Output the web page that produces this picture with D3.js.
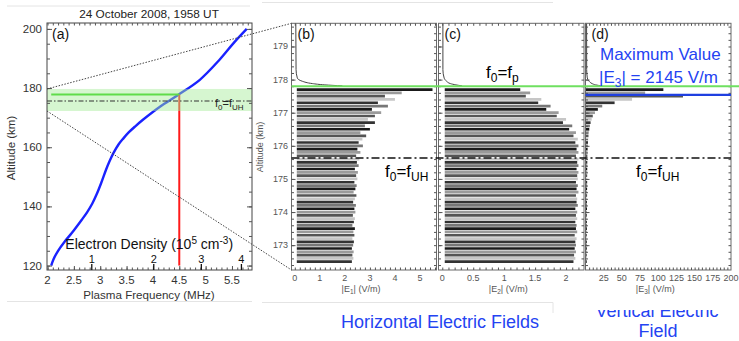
<!DOCTYPE html>
<html>
<head>
<meta charset="utf-8">
<script src="https://cdn.jsdelivr.net/npm/d3@7"></script>
<style>
  body { margin: 0; background: #fff; }
  svg { display: block; font-family: "Liberation Sans", Arial, sans-serif; }
</style>
</head>
<body>
<svg id="chart" width="739" height="341"></svg>
<script>
// ---- panel (a): density profile ----
const profileAlt  = [120, 122, 125, 128, 131, 135.5, 138, 141, 144, 148, 152.4, 155, 158, 161, 163, 165, 167, 169.3, 173.8, 177.6, 182.8, 189.5, 195.2, 200];
const profileFreq = [2.07, 2.11, 2.2, 2.32, 2.46, 2.65, 2.75, 2.85, 2.93, 3.02, 3.11, 3.17, 3.25, 3.35, 3.44, 3.54, 3.66, 3.81, 4.14, 4.47, 4.89, 5.26, 5.53, 5.78];
const freqTicks = [2, 2.5, 3, 3.5, 4, 4.5, 5, 5.5];
const densityTicks = [1, 2, 3, 4];          // 10^5 cm^-3
const altTicksA = [120, 140, 160, 180, 200];
const f0 = 4.5;                              // MHz
const fpAlt = 177.8;                         // f0 = fp
const fuhAlt = 175.63;                       // f0 = fUH
const zoomBand = [172.25, 179.7];

// ---- panels (b)-(d): field amplitudes vs altitude ----
const barAlt = [177.7, 177.6, 177.5, 177.4, 177.3, 177.2, 177.1, 177.0, 176.9, 176.8,
                176.7, 176.6, 176.5, 176.4, 176.3, 176.2, 176.1, 176.0, 175.9, 175.8,
                175.7, 175.6, 175.5, 175.4, 175.3, 175.2, 175.1, 175.0, 174.9, 174.8,
                174.7, 174.6, 174.5, 174.4, 174.3, 174.2, 174.1, 174.0, 173.9, 173.8,
                173.7, 173.6, 173.5, 173.4, 173.3, 173.2, 173.1, 173.0, 172.9, 172.8,
                172.7, 172.6, 172.5];
const e1 = [5.5, 4.27, 3.6, 4.0, 3.32, 3.72, 3.08, 3.45, 3.2, 2.92,
            3.2, 2.8, 3.0, 2.62, 2.85, 2.7, 2.55, 2.72, 2.5, 2.62,
            2.45, 2.58, 2.48, 2.55, 2.4, 2.52, 2.45, 2.5, 2.38, 2.47,
            2.42, 2.35, 2.46, 2.4, 2.33, 2.44, 2.38, 2.42, 2.32, 2.4,
            2.36, 2.3, 2.4, 2.34, 2.38, 2.3, 2.36, 2.33, 2.28, 2.35,
            2.3, 2.34, 2.28];
const e2 = [1.26, 1.42, 1.35, 1.6, 1.55, 1.75, 1.68, 1.88, 1.85, 2.0,
            1.95, 2.1, 2.05, 2.16, 2.12, 2.19, 2.15, 2.2, 2.17, 2.2,
            2.16, 2.2, 2.18, 2.2, 2.17, 2.2, 2.18, 2.19, 2.16, 2.19,
            2.17, 2.2, 2.16, 2.18, 2.17, 2.19, 2.15, 2.18, 2.16, 2.18,
            2.15, 2.17, 2.16, 2.18, 2.14, 2.17, 2.15, 2.16, 2.14, 2.16,
            2.13, 2.15, 2.12];
const e3 = [107, 82, 134, 64, 40, 23, 17, 13, 10, 8.5,
            7, 6, 5.2, 4.6, 4.1, 3.7, 3.4, 3.1, 2.9, 2.7,
            2.6, 2.5, 2.5, 2.4, 2.4, 2.4, 2.3, 2.3, 2.3, 2.2,
            2.2, 2.2, 2.2, 2.1, 2.1, 2.1, 2.1, 2.0, 2.0, 2.0,
            2.0, 2.0, 1.9, 1.9, 1.9, 1.9, 1.9, 1.8, 1.8, 1.8,
            1.8, 1.8, 1.8];
// thin trace above the plasma resonance
const topAlt = [179.7, 178.3, 178.05, 177.95, 177.88, 177.84, 177.81];
const e1Top  = [0.04, 0.05, 0.1, 0.3, 0.7, 1.2, 1.9];
const e2Top  = [0.01, 0.01, 0.03, 0.07, 0.13, 0.22, 0.32];
const e3Top  = [1.5, 1.6, 2.5, 5, 9, 14, 22];
const e3Max = 2145, e3MaxAlt = 177.54;
const altTicksB = [173, 174, 175, 176, 177, 178, 179];
const e1Ticks = [0, 1, 2, 3, 4, 5];
const e2Ticks = [0, 0.5, 1, 1.5, 2];
const e3Ticks = [25, 50, 75, 100, 125, 150, 175, 200];

const BLUE_TXT = '#2443f2';
const shades = ['#1a1a1a', '#9a9a9a', '#555', '#c6c6c6', '#333', '#777'];

const svg = d3.select('#chart');

// faint image borders
const faint = [[7, 6, 250, 6], [7, 301.5, 252, 301.5], [262, 2.5, 553, 2.5], [262, 302.5, 553, 302.5], [553, 302.5, 553, 313]];
svg.selectAll('.faint').data(faint).enter().append('line')
  .attr('x1', d => d[0]).attr('y1', d => d[1]).attr('x2', d => d[2]).attr('y2', d => d[3])
  .attr('stroke', '#e4e4e4');

// ===== panel (a) =====
const xa = d3.scaleLinear().domain([1.99, 5.88]).range([47, 252]);
const ya = d3.scaleLinear().domain([118.5, 202]).range([270, 23]);
const densToFreq = n => 2.8397 * Math.sqrt(n);   // f(MHz) for n in 1e5 cm^-3

const ga = svg.append('g');

function minorAxis(g, axisFn, scale, vals, size, transform) {
  g.append('g').attr('transform', transform)
    .call(axisFn(scale).tickValues(vals).tickSize(size).tickFormat(''))
    .call(s => s.select('.domain').remove())
    .selectAll('line').attr('stroke', '#555');
}

const profile = d3.zip(profileAlt, profileFreq);
ga.append('path').datum(profile)
  .attr('fill', 'none').attr('stroke', '#1a22ff').attr('stroke-width', 2.4)
  .attr('d', d3.line().x(d => xa(d[1])).y(d => ya(d[0])).curve(d3.curveCatmullRom.alpha(0.5)));

ga.append('line')
  .attr('x1', xa(f0)).attr('x2', xa(f0)).attr('y1', ya(120)).attr('y2', ya(fpAlt))
  .attr('stroke', '#ff1a1a').attr('stroke-width', 2);

// green band of the zoom region
ga.append('rect')
  .attr('x', xa.range()[0]).attr('width', xa.range()[1] - xa.range()[0])
  .attr('y', ya(zoomBand[1])).attr('height', ya(zoomBand[0]) - ya(zoomBand[1]))
  .attr('fill', 'rgb(165,235,150)').attr('opacity', 0.45);

ga.append('line')
  .attr('x1', xa(profileFreq[0])).attr('x2', xa(f0)).attr('y1', ya(fpAlt)).attr('y2', ya(fpAlt))
  .attr('stroke', '#5fdc4a').attr('stroke-width', 2);

ga.append('line')
  .attr('x1', xa.range()[0]).attr('x2', xa.range()[1]).attr('y1', ya(fuhAlt)).attr('y2', ya(fuhAlt))
  .attr('stroke', '#333').attr('stroke-width', 1).attr('stroke-dasharray', '5,2,1.5,2');

// frame + ticks
ga.append('rect').attr('x', 47).attr('y', 23).attr('width', 205).attr('height', 247)
  .attr('fill', 'none').attr('stroke', '#444');
minorAxis(ga, d3.axisLeft, ya, d3.range(120, 201, 5), -3, 'translate(47,0)');
minorAxis(ga, d3.axisRight, ya, d3.range(120, 201, 5), -3, 'translate(252,0)');
minorAxis(ga, d3.axisBottom, xa, d3.range(2, 5.85, 0.1), -2.5, 'translate(0,270)');
minorAxis(ga, d3.axisTop, xa, d3.range(2, 5.85, 0.1), -2.5, 'translate(0,23)');
minorAxis(ga, d3.axisBottom, xa, freqTicks, -4, 'translate(0,270)');
minorAxis(ga, d3.axisLeft, ya, altTicksA, -5, 'translate(47,0)');
minorAxis(ga, d3.axisRight, ya, altTicksA, -5, 'translate(252,0)');

ga.selectAll('.dtick').data(densityTicks).enter().append('line')
  .attr('x1', d => xa(densToFreq(d))).attr('x2', d => xa(densToFreq(d)))
  .attr('y1', 270).attr('y2', 264).attr('stroke', '#111').attr('stroke-width', 1.3);
ga.selectAll('.dlab').data(densityTicks).enter().append('text')
  .attr('x', d => xa(densToFreq(d))).attr('y', 262.5).attr('text-anchor', 'middle')
  .attr('font-size', 11).attr('fill', '#111').text(d => d);

const dens = ga.append('text').attr('x', xa(3.93)).attr('y', 249).attr('text-anchor', 'middle')
  .attr('font-size', 14).attr('fill', '#111');
dens.append('tspan').text('Electron Density (10');
dens.append('tspan').attr('dy', -5).attr('font-size', 10).text('5');
dens.append('tspan').attr('dy', 5).text(' cm');
dens.append('tspan').attr('dy', -5).attr('font-size', 10).text('-3');
dens.append('tspan').attr('dy', 5).text(')');

ga.selectAll('.flab').data(freqTicks).enter().append('text')
  .attr('x', d => xa(d)).attr('y', 284).attr('text-anchor', 'middle')
  .attr('font-size', 11.5).attr('fill', '#333').text(d => d);
ga.selectAll('.alab').data(altTicksA).enter().append('text')
  .attr('x', 42).attr('y', d => ya(d) + 4).attr('text-anchor', 'end')
  .attr('font-size', 11.5).attr('fill', '#333').text(d => d);

ga.append('text').attr('x', 149).attr('y', 299).attr('text-anchor', 'middle')
  .attr('font-size', 11.6).attr('fill', '#333').text('Plasma Frequency (MHz)');
ga.append('text').attr('transform', 'translate(15,148) rotate(-90)').attr('text-anchor', 'middle')
  .attr('font-size', 11.5).attr('fill', '#333').text('Altitude (km)');
ga.append('text').attr('x', 149).attr('y', 18).attr('text-anchor', 'middle')
  .attr('font-size', 11.8).attr('fill', '#222').text('24 October 2008, 1958 UT');
ga.append('text').attr('x', 52).attr('y', 39).attr('font-size', 14).attr('fill', '#111').text('(a)');

function fLabel(g, x, y, size, subs, color) {
  const t = g.append('text').attr('x', x).attr('y', y).attr('font-size', size).attr('fill', color);
  const sub = Math.round(size * 0.7), dy = size * 0.25;
  t.append('tspan').text('f');
  t.append('tspan').attr('dy', dy).attr('font-size', sub).text('0');
  t.append('tspan').attr('dy', -dy).text('=f');
  t.append('tspan').attr('dy', dy).attr('font-size', sub).text(subs);
  return t;
}
fLabel(ga, 215, 107, 11, 'UH', '#222');

// ===== panels (b), (c), (d) =====
const yb = d3.scaleLinear().domain([172.25, 179.7]).range([270, 23.3]);
const panels = [
  { key: 'b', x0: 291.5, x1: 436.5, dom: [-0.132, 5.66], vals: e1, top: e1Top, ticks: e1Ticks, minor: d3.range(0, 5.61, 0.2), start: 0.08, sub: '1' },
  { key: 'c', x0: 438.5, x1: 584, dom: [-0.061, 2.29], vals: e2, top: e2Top, ticks: e2Ticks, minor: d3.range(0, 2.26, 0.1), start: 0.04, sub: '2' },
  { key: 'd', x0: 585.5, x1: 731, dom: [0, 200], vals: e3, top: e3Top, ticks: e3Ticks, minor: d3.range(5, 200, 5), start: 0, sub: '3' }
];

panels.forEach(p => {
  const x = d3.scaleLinear().domain(p.dom).range([p.x0, p.x1]);
  p.x = x;
  const g = svg.append('g');

  g.selectAll('.bar').data(d3.zip(barAlt, p.vals)).enter().append('line')
    .attr('x1', x(p.start)).attr('x2', d => x(d[1]))
    .attr('y1', d => yb(d[0])).attr('y2', d => yb(d[0]))
    .attr('stroke', (d, i) => shades[i % shades.length]).attr('stroke-width', 2.7);

  g.append('path').datum(d3.zip(topAlt, p.top))
    .attr('fill', 'none').attr('stroke', '#444').attr('stroke-width', 1)
    .attr('d', d3.line().x(d => x(d[1])).y(d => yb(d[0])).curve(d3.curveMonotoneY));

  g.append('rect').attr('x', p.x0).attr('y', 23.3).attr('width', p.x1 - p.x0).attr('height', 270 - 23.3)
    .attr('fill', 'none').attr('stroke', '#6a6a6a');
  minorAxis(g, d3.axisBottom, x, p.minor, -2.5, 'translate(0,270)');
  minorAxis(g, d3.axisTop, x, p.minor, -2.5, 'translate(0,23.3)');
  minorAxis(g, d3.axisLeft, yb, d3.range(172.4, 179.7, 0.2), -2.5, `translate(${p.x0},0)`);
  minorAxis(g, d3.axisRight, yb, d3.range(172.4, 179.7, 0.2), -2.5, `translate(${p.x1},0)`);
  minorAxis(g, d3.axisLeft, yb, altTicksB, -4, `translate(${p.x0},0)`);

  g.selectAll('.xl').data(p.ticks).enter().append('text')
    .attr('x', d => x(d)).attr('y', 281).attr('text-anchor', 'middle')
    .attr('font-size', 9).attr('fill', '#555').text(d => d);

  const lab = g.append('text').attr('x', (p.x0 + p.x1) / 2 - 3).attr('y', 292)
    .attr('text-anchor', 'middle').attr('font-size', 9).attr('fill', '#555');
  lab.append('tspan').text('|E');
  lab.append('tspan').attr('dy', 2).attr('font-size', 6.5).text(p.sub);
  lab.append('tspan').attr('dy', -2).text('| (V/m)');

  g.append('text').attr('x', p.x0 + 6).attr('y', 39).attr('font-size', 14).attr('fill', '#111')
    .text(`(${p.key})`);
});

// (b) altitude axis labels
const pb = panels[0];
svg.selectAll('.yl').data(altTicksB).enter().append('text')
  .attr('x', 288).attr('y', d => yb(d) + 3).attr('text-anchor', 'end')
  .attr('font-size', 9).attr('fill', '#555').text(d => d);
svg.append('text').attr('transform', 'translate(263,147) rotate(-90)').attr('text-anchor', 'middle')
  .attr('font-size', 9).attr('fill', '#555').text('Altitude (km)');

// resonance lines across (b)-(d)
const pd = panels[2];
svg.append('line')
  .attr('x1', pb.x0).attr('x2', 739).attr('y1', yb(fpAlt)).attr('y2', yb(fpAlt))
  .attr('stroke', '#6fe060').attr('stroke-width', 2);
svg.append('line')
  .attr('x1', pd.x0).attr('x2', pd.x(Math.min(e3Max, pd.x.domain()[1]))).attr('y1', yb(e3MaxAlt)).attr('y2', yb(e3MaxAlt))
  .attr('stroke', '#1f3fe0').attr('stroke-width', 2.2);
svg.append('line')
  .attr('x1', pb.x0).attr('x2', pd.x1).attr('y1', yb(fuhAlt)).attr('y2', yb(fuhAlt))
  .attr('stroke', '#111').attr('stroke-width', 1.6).attr('stroke-dasharray', '8,3,2,3');

// connectors from panel (a) band to panel (b)
const conn = [[zoomBand[1], 23.3], [zoomBand[0], 270]];
svg.selectAll('.conn').data(conn).enter().append('line')
  .attr('x1', xa.range()[0]).attr('y1', d => ya(d[0]))
  .attr('x2', pb.x0).attr('y2', d => d[1])
  .attr('stroke', '#444').attr('stroke-width', 1).attr('stroke-dasharray', '1.5,1.5');

// labels
fLabel(svg, 385, 177, 17, 'UH', '#000');
fLabel(svg, 636, 177, 17, 'UH', '#000');
fLabel(svg, 486, 78, 17, 'p', '#000');

svg.append('text').attr('x', 600).attr('y', 60).attr('font-size', 17).attr('fill', BLUE_TXT).text('Maximum Value');
const mx = svg.append('text').attr('x', 599).attr('y', 83).attr('font-size', 17).attr('fill', BLUE_TXT);
mx.append('tspan').text('|E');
mx.append('tspan').attr('dy', 4).attr('font-size', 12).text('3');
mx.append('tspan').attr('dy', -4).text(`| = ${e3Max} V/m`);

svg.append('text').attr('x', 440).attr('y', 328).attr('text-anchor', 'middle')
  .attr('font-size', 18).attr('fill', BLUE_TXT).text('Horizontal Electric Fields');
svg.append('text').attr('x', 657).attr('y', 317).attr('text-anchor', 'middle')
  .attr('font-size', 18).attr('fill', BLUE_TXT).text('Vertical Electric');
svg.append('rect').attr('x', 556).attr('y', 296).attr('width', 183).attr('height', 14).attr('fill', '#fff');
svg.append('text').attr('x', 658).attr('y', 337).attr('text-anchor', 'middle')
  .attr('font-size', 18).attr('fill', BLUE_TXT).text('Field');
</script>
</body>
</html>
